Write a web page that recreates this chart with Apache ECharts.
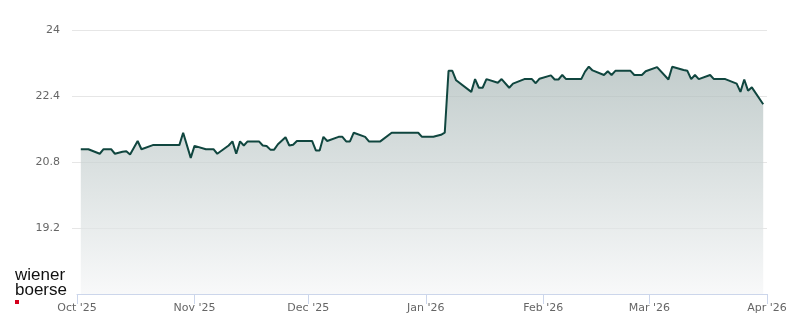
<!DOCTYPE html>
<html>
<head>
<meta charset="utf-8">
<script src="https://cdn.jsdelivr.net/npm/echarts@6/dist/echarts.min.js"></script>
<style>
html,body{margin:0;padding:0;background:#fff;}
#chart{width:800px;height:324px;}
</style>
</head>
<body>
<div id="chart"></div>
<script>
// Dates of the price points (local dates)
var dates = [
'2025-10-02','2025-10-04','2025-10-07','2025-10-08','2025-10-10','2025-10-11','2025-10-13','2025-10-14','2025-10-15','2025-10-17',
'2025-10-18','2025-10-21','2025-10-28','2025-10-29','2025-10-31','2025-11-01','2025-11-04','2025-11-06','2025-11-07','2025-11-10',
'2025-11-11','2025-11-12','2025-11-13','2025-11-14','2025-11-15','2025-11-18','2025-11-19','2025-11-20','2025-11-21','2025-11-22',
'2025-11-23','2025-11-25','2025-11-26','2025-11-27','2025-11-28','2025-12-02','2025-12-03','2025-12-04','2025-12-05','2025-12-06',
'2025-12-09','2025-12-10','2025-12-11','2025-12-12','2025-12-13','2025-12-16','2025-12-17','2025-12-20','2025-12-23','2025-12-30',
'2025-12-31','2026-01-03','2026-01-05','2026-01-06','2026-01-07','2026-01-08','2026-01-09','2026-01-13','2026-01-14','2026-01-15',
'2026-01-16','2026-01-17','2026-01-20','2026-01-21','2026-01-23','2026-01-24','2026-01-27','2026-01-29','2026-01-30','2026-01-31',
'2026-02-03','2026-02-04','2026-02-05','2026-02-06','2026-02-07','2026-02-11','2026-02-12','2026-02-13','2026-02-14','2026-02-17',
'2026-02-18','2026-02-19','2026-02-20','2026-02-24','2026-02-25','2026-02-27','2026-02-28','2026-03-03','2026-03-06','2026-03-07',
'2026-03-10','2026-03-11','2026-03-12','2026-03-13','2026-03-14','2026-03-17','2026-03-18','2026-03-21','2026-03-24','2026-03-25',
'2026-03-26','2026-03-27','2026-03-28','2026-03-31'
];
// Prices
var prices = [
21.11,21.11,21.00,21.11,21.11,21.00,21.05,21.06,20.98,21.31,
21.11,21.21,21.21,21.51,20.90,21.19,21.11,21.11,21.00,21.20,
21.30,21.00,21.30,21.20,21.30,21.30,21.20,21.19,21.10,21.10,
21.23,21.40,21.20,21.22,21.31,21.31,21.08,21.08,21.41,21.31,
21.41,21.41,21.30,21.30,21.51,21.41,21.30,21.30,21.51,21.51,
21.41,21.41,21.46,21.51,23.01,23.01,22.78,22.50,22.81,22.60,
22.60,22.81,22.72,22.81,22.60,22.70,22.81,22.81,22.71,22.82,
22.90,22.80,22.80,22.91,22.81,22.81,22.99,23.11,23.02,22.91,
23.00,22.91,23.01,23.01,22.91,22.91,23.00,23.10,22.80,23.11,
23.03,23.01,22.81,22.91,22.81,22.91,22.81,22.81,22.70,22.50,
22.80,22.53,22.61,22.20
];
// Axis settings
var yTicks = [17.6, 19.2, 20.8, 22.4, 24];
var xStart = '2025-10-01';
var xEnd = '2026-04-01';
var monthNames = ['Jan','Feb','Mar','Apr','May','Jun','Jul','Aug','Sep','Oct','Nov','Dec'];

function ts(s){ var p = s.split('-'); return new Date(+p[0], +p[1]-1, +p[2]).getTime(); }
var seriesData = dates.map(function(d,i){ return [ts(d), prices[i]]; });

var chart = echarts.init(document.getElementById('chart'), null, {renderer:'canvas'});
chart.setOption({
  animation: false,
  backgroundColor: '#ffffff',
  grid: {left: 77, right: 33, top: 30, bottom: 30},
  xAxis: {
    type: 'time',
    min: ts(xStart),
    max: ts(xEnd),
    splitNumber: 6,
    minInterval: 28*86400000,
    maxInterval: 31*86400000,
    axisLine: {show: true, lineStyle: {color: '#ccd6eb', width: 1}},
    axisTick: {show: true, length: 10, lineStyle: {color: '#ccd6eb'}},
    splitLine: {show: false},
    axisLabel: {
      color: '#666666', fontSize: 11, fontFamily: 'DejaVu Sans', margin: 9,
      showMinLabel: true, showMaxLabel: true,
      formatter: function(v){ var d = new Date(v); return monthNames[d.getMonth()] + " '" + String(d.getFullYear()).slice(2); }
    }
  },
  yAxis: {
    type: 'value',
    min: yTicks[0],
    max: yTicks[yTicks.length-1],
    interval: 1.6,
    axisLine: {show: false},
    axisTick: {show: true, length: 5, lineStyle: {color: '#e6e6e6'}},
    splitLine: {show: true, lineStyle: {color: '#e6e6e6', width: 1}},
    axisLabel: {color: '#666666', fontSize: 11, fontFamily: 'DejaVu Sans', margin: 17, showMinLabel: false,
      formatter: function(v){ return String(Math.round(v*10)/10); }}
  },
  series: [{
    type: 'line',
    data: seriesData,
    showSymbol: false,
    symbol: 'none',
    lineStyle: {color: '#10463f', width: 2},
    itemStyle: {color: '#10463f'},
    areaStyle: {
      color: new echarts.graphic.LinearGradient(0, 0, 0, 1, [
        {offset: 0, color: '#a9b8b7'},
        {offset: 1, color: '#f5f6f7'}
      ])
    }
  }],
  graphic: [
    {type: 'text', left: 15, top: 267, style: {text: 'wiener', font: '17px "Liberation Sans"', fill: '#111111'}},
    {type: 'text', left: 15, top: 282, style: {text: 'boerse', font: '17px "Liberation Sans"', fill: '#111111'}},
    {type: 'rect', left: 15, top: 300, shape: {width: 4, height: 4}, style: {fill: '#d4001c'}}
  ]
});
</script>
</body>
</html>
